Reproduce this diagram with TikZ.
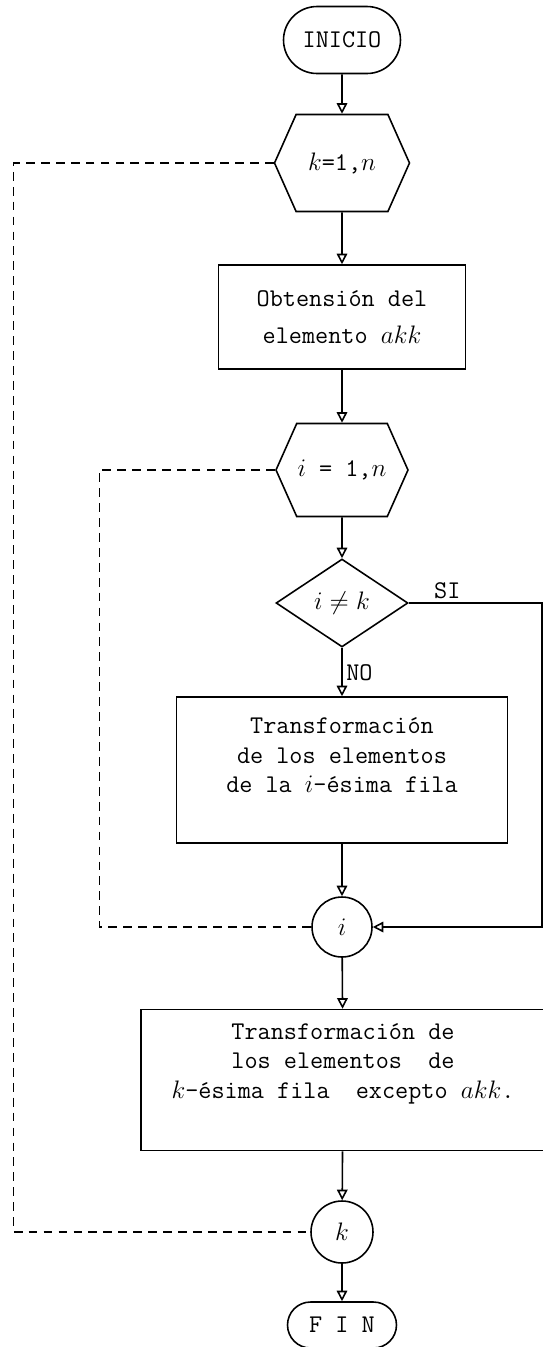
\documentclass[tikz,border=0pt]{standalone}
\usetikzlibrary{arrows.meta,shapes.geometric,shapes.misc,shapes.symbols}

\begin{document}
\begin{tikzpicture}[x=0.02cm, y=-0.02cm, line width=0.9pt,
  every node/.style={font=\ttfamily\fontsize{14.5}{16.8}\selectfont, align=center, inner sep=2pt},
  flecha/.style={-{Triangle[open,length=6pt,width=6pt]}},
  lazo/.style={dash pattern=on 5pt off 3.5pt, line width=0.7pt},
  caja/.style={draw, rectangle, inner sep=0pt},
  hexa/.style={draw, signal, signal to=west and east, signal pointer angle=132, inner sep=0pt},
  term/.style={draw, rounded rectangle, inner sep=0pt},
  conector/.style={draw, circle, inner sep=0pt}]
  \useasboundingbox (0,0) rectangle (543,1347);
  % Nodos
  \node[term, minimum width=2.34cm, minimum height=1.34cm] (inicio) at (342,40) {INICIO};
  \node[hexa, minimum width=2.7cm, minimum height=1.94cm] (lazok) at (342,163) {$k$=1,$n$};
  \node[caja, minimum width=4.94cm, minimum height=2.08cm] (obt) at (342,317) {Obtensión del\\[4pt] elemento $akk$};
  \node[hexa, minimum width=2.64cm, minimum height=1.86cm] (lazoi) at (342,470) {$i$ = 1,$n$};
  \node[diamond, draw, aspect=1.5, minimum width=2.64cm, minimum height=1.76cm, inner sep=0pt] (cond) at (342,603) {$i \neq k$};
  \node[caja, minimum width=6.62cm, minimum height=2.92cm] (trfi) at (342,770) {Transformación\\de los elementos\\de la $i$-ésima fila\\[0pt]\mbox{}};
  \node[conector, minimum size=1.2cm] (ci) at (342,927) {$i$};
  \node[caja, minimum width=8.08cm, minimum height=2.82cm] (trfk) at (343,1080) {Transformación de\\los elementos\ \ de\\$k$-ésima fila\ \ excepto $akk$.\\[5pt]\mbox{}};
  \node[conector, minimum size=1.24cm] (ck) at (342,1232) {$k$};
  \node[term, minimum width=2.18cm, minimum height=0.92cm] (fin) at (342,1325) {F I N};
  % Flujo principal
  \draw[flecha] (inicio) -- (lazok);
  \draw[flecha] (lazok) -- (obt);
  \draw[flecha] (obt) -- (lazoi);
  \draw[flecha] (lazoi) -- (cond);
  \draw[flecha] (cond) -- node[right, pos=0.52] {NO} (trfi);
  \draw[flecha] (trfi) -- (ci);
  \draw[flecha] (ci) -- (trfk);
  \draw[flecha] (trfk) -- (ck);
  \draw[flecha] (ck) -- (fin);
  % Rama SI
  \draw[flecha] (cond.east) -- node[above, pos=0.29] {SI} ++(133,0) |- (ci.east);
  % Lazos
  \draw[lazo] (lazoi.west) -- ++(-176,0) |- (ci.west);
  \draw[lazo] (lazok.west) -- ++(-260,0) |- (ck.west);
\end{tikzpicture}
\end{document}
